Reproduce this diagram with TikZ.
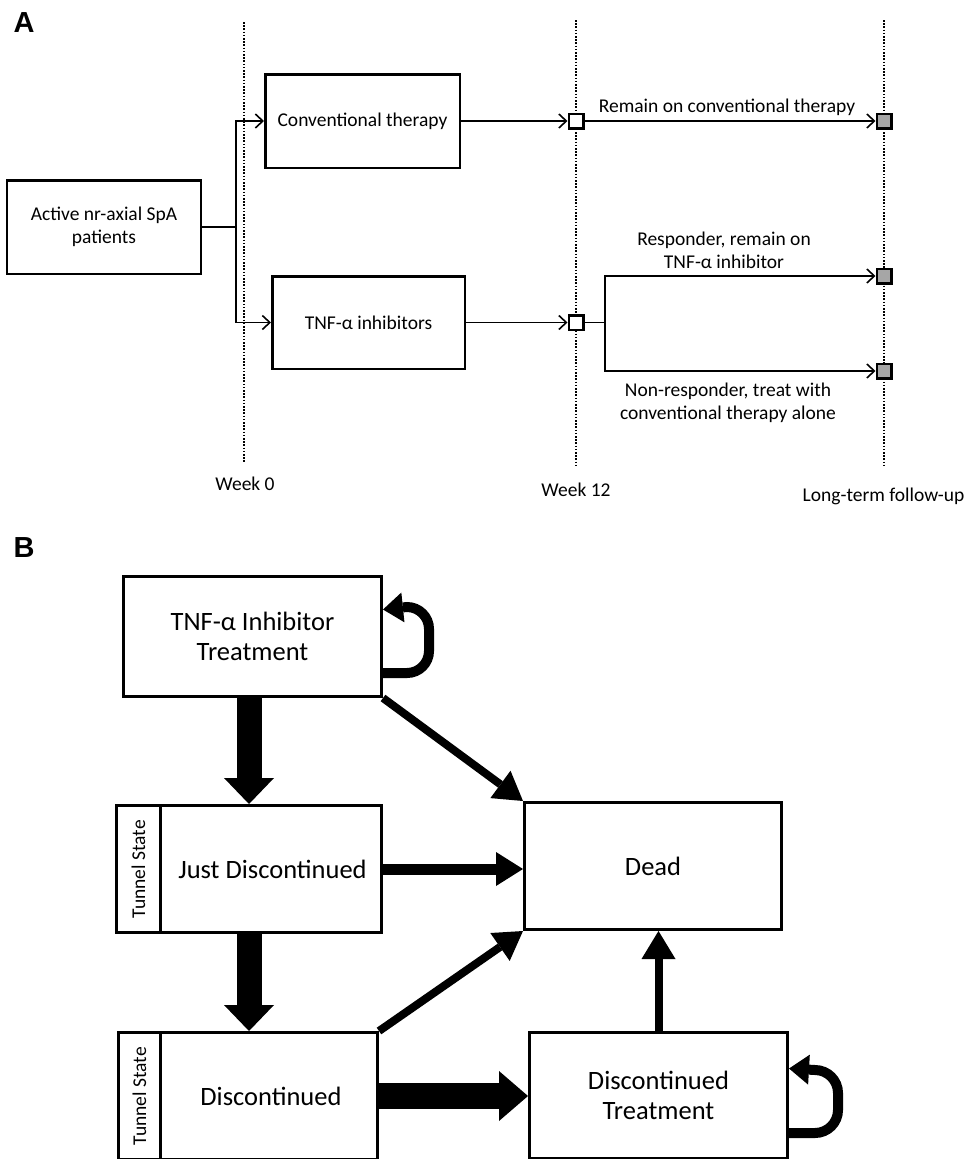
\documentclass[tikz,border=0pt]{standalone}
\usepackage{fontspec}
\setmainfont{Carlito}
\newfontfamily\panelfont{Liberation Sans}
\usetikzlibrary{arrows.meta,calc}
\begin{document}
\begin{tikzpicture}[x=1pt,y=-1pt,
  boxA/.style={draw, line width=2.5pt, align=center, inner sep=0pt, font=\fontsize{19.5}{23}\selectfont},
  boxB/.style={draw, line width=3pt, align=center, inner sep=0pt, font=\fontsize{26.5}{29.5}\selectfont},
  txtB/.style={align=center, inner sep=0pt, font=\fontsize{26.5}{29.5}\selectfont},
  tunnel/.style={rotate=90, inner sep=0pt, font=\fontsize{19.5}{21}\selectfont},
  lbl/.style={align=center, inner sep=0pt, font=\fontsize{19.5}{23}\selectfont},
  panel/.style={inner sep=0pt, font=\panelfont\bfseries\fontsize{29}{29}\selectfont},
  thinline/.style={line width=1.6pt},
  thinarrow/.style={line width=1.6pt, -{Straight Barb[length=7.5pt,width=14pt,line width=1.6pt]}},
  timeline/.style={line width=2pt, dash pattern=on 1.6pt off 1.6pt},
  sqw/.style={draw, line width=2.5pt, fill=white, minimum size=14.5pt, inner sep=0pt},
  sqg/.style={sqw, fill=gray!70},
  fatv/.style={line width=25pt, -{Triangle[length=26pt,width=50pt,line width=0pt]}},
  fath/.style={line width=26pt, -{Triangle[length=29pt,width=50pt,line width=0pt]}},
  medarrow/.style={line width=11pt, -{Triangle[length=27pt,width=34pt,line width=0pt]}},
  thinB/.style={line width=8pt, -{Triangle[length=28pt,width=34pt,line width=0pt]}},
  loopB/.style={line width=10pt, -{Triangle[length=20pt,width=30pt,line width=0pt]}}
]
\useasboundingbox (0,0) rectangle (968,1159);

% ---------------- Panel A ----------------
\node[panel] (pa) at (24,23) {A};

\draw[timeline] (244,22) -- (244,463);
\draw[timeline] (576,20) -- (576,466);
\draw[timeline] (884,20) -- (884,465);

\node[boxA, minimum width=194pt, minimum height=93.5pt] (act) at (104,227) {Active nr-axial SpA\\patients};
\node[boxA, minimum width=194.5pt, minimum height=93.5pt] (conv) at (362.5,121) {Conventional therapy};
\node[boxA, minimum width=192.5pt, minimum height=92.5pt] (tnf) at (368.5,322.5) {TNF-α inhibitors};

\node[sqw] (s1) at (576,121) {};
\node[sqw] (s2) at (576,322.5) {};
\node[sqg] (g1) at (884,121) {};
\node[sqg] (g2) at (884,276) {};
\node[sqg] (g3) at (884,371) {};

\coordinate (split1) at (236,227);
\coordinate (split2) at (605,322.5);

\draw[thinline] (act.east) -- (split1);
\draw[thinarrow] (split1) |- (conv.west);
\draw[thinarrow] (split1) |- (tnf.west);
\draw[thinarrow] (conv.east) -- (s1.west);
\draw[thinarrow] (s1.east) -- (g1.west);
\draw[thinarrow] (tnf.east) -- (s2.west);
\draw[thinline] (s2.east) -- (split2);
\draw[thinarrow] (split2) |- (g2.west);
\draw[thinarrow] (split2) |- (g3.west);

\node[lbl] (l1) at (727,107) {Remain on conventional therapy};
\node[lbl] (l2) at (724,250) {Responder, remain on\\TNF-α inhibitor};
\node[lbl] (l3) at (728,403) {Non-responder, treat with\\conventional therapy alone};

\node[lbl] (w0) at (245,484) {Week 0};
\node[lbl] (w12) at (576,490) {Week 12};
\node[lbl] (wl) at (883.5,496) {Long-term follow-up};

% ---------------- Panel B ----------------
\node[panel] (pb) at (24,548) {B};

\node[boxB, minimum width=258pt, minimum height=120pt] (tnfB) at (252.5,636.5) {TNF-α Inhibitor\\Treatment};

\node[boxB, minimum width=265pt, minimum height=127pt] (jd) at (249,869) {};
\node[boxB, minimum width=44pt, minimum height=127pt] (jdst) at (138.5,869) {};
\node[tunnel] (jdtt) at (jdst) {Tunnel State};
\node[txtB] (jdtx) at (272.5,869) {Just Discontinued};

\node[boxB, minimum width=259pt, minimum height=127pt] (disc) at (248,1096) {};
\node[boxB, minimum width=42pt, minimum height=127pt] (discst) at (139.5,1096) {};
\node[tunnel] (disctt) at (discst) {Tunnel State};
\node[txtB] (disctx) at (271,1096) {Discontinued};

\node[boxB, minimum width=257pt, minimum height=127pt] (dead) at (653,866) {Dead};
\node[boxB, minimum width=258pt, minimum height=126pt] (dt) at (658.5,1095.5) {Discontinued\\Treatment};

% fat arrows
\draw[fatv] (jd.north |- tnfB.south) -- (jd.north);
\draw[fatv] (jd.south) -- (jd.south |- disc.north);
\draw[fath] (disc.east) -- (disc.east -| dt.west);

% to Dead
\draw[medarrow] (jd.east) -- (jd.east -| dead.west);
\draw[thinB] (tnfB.south east) -- (dead.north west);
\draw[thinB] (disc.north east) -- (dead.south west);
\draw[thinB] (dt.north) -- (dt.north |- dead.south);

% self loops
\draw[loopB] ($(tnfB.east)+(0,36.5)$) -- ++(24,0)
   arc[start angle=90, end angle=0, radius=22] -- ++(0,-22)
   arc[start angle=0, end angle=-90, radius=22] -- ($(tnfB.east)+(0,-27)$);
\draw[loopB] ($(dt.east)+(0,37.5)$) -- ++(26,0)
   arc[start angle=90, end angle=0, radius=23] -- ++(0,-17)
   arc[start angle=0, end angle=-90, radius=23] -- ($(dt.east)+(0,-27)$);
\end{tikzpicture}
\end{document}
